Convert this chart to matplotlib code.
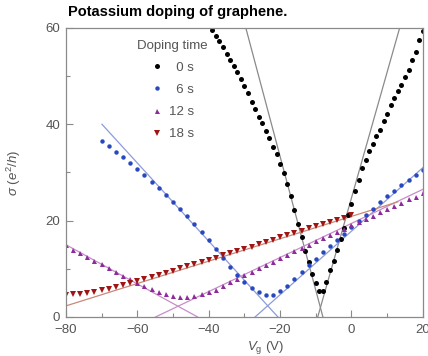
import numpy as np
import matplotlib
matplotlib.use("Agg")
import matplotlib.pyplot as plt

plt.rcParams["font.family"] = ["Liberation Sans", "DejaVu Sans"]
plt.rcParams["mathtext.fontset"] = "custom"
plt.rcParams["mathtext.it"] = "Liberation Sans:italic"
plt.rcParams["mathtext.rm"] = "Liberation Sans"

# --- data ---
v_0s = [-39, -38, -37, -36, -35, -34, -33, -32, -31, -30, -29, -28, -27, -26, -25,
        -24, -23, -22, -21, -20, -19, -18, -17, -16, -15, -14, -13, -12, -11, -10,
        -9, -8, -7, -6, -5, -4, -3, -2, -1, 0, 1, 2, 3, 4, 5, 6, 7, 8, 9, 10,
        11, 12, 13, 14, 15, 16, 17, 18, 19, 20]
s_0s = [59.6, 58.3, 57.2, 56.0, 54.6, 53.4, 52.0, 50.9, 49.3, 47.9, 46.4, 44.7, 43.2, 41.5, 40.2,
        38.5, 37.1, 35.3, 33.9, 31.7, 29.9, 27.6, 25.1, 22.3, 19.3, 16.6, 13.7, 11.4, 9.0, 7.1,
        5.4, 5.3, 7.3, 9.8, 11.7, 13.9, 16.2, 18.5, 21.1, 23.4, 26.1, 28.4, 30.9, 32.5, 34.5,
        35.9, 37.6, 38.9, 40.7, 42.2, 44.1, 45.4, 47.0, 48.2, 49.9, 51.3, 53.3, 55.1, 57.5, 59.3]

v_6s = list(range(-70, 21, 2))
s_6s = [36.6, 35.4, 34.3, 33.2, 32.0, 30.7, 29.4, 28.1, 26.8, 25.4, 23.9, 22.4, 20.9, 19.3,
        17.6, 15.9, 14.1, 12.3, 10.4, 8.7, 7.3, 6.0, 5.1, 4.6, 4.6, 5.3, 6.5, 7.9, 9.3, 10.7,
        12.1, 13.4, 14.8, 16.0, 17.3, 18.6, 19.9, 21.1, 22.5, 23.8, 25.1, 26.2, 27.3, 28.4,
        29.5, 30.6]

v_12s = list(range(-80, 21, 2))
s_12s = [14.9, 14.0, 13.2, 12.4, 11.6, 10.9, 10.1, 9.3, 8.5, 7.8, 7.0, 6.4, 5.8, 5.2, 4.8,
         4.4, 4.2, 4.2, 4.4, 4.7, 5.1, 5.7, 6.4, 7.2, 7.9, 8.7, 9.4, 10.1, 10.8, 11.5, 12.2,
         12.9, 13.6, 14.3, 15.0, 15.7, 16.4, 17.0, 17.6, 18.3, 19.0, 19.7, 20.3, 21.0, 21.7,
         22.4, 23.0, 23.7, 24.4, 25.0, 25.7]

v_18s = list(range(-80, 1, 2))
s_18s = [4.6, 4.7, 4.8, 5.0, 5.2, 5.5, 5.8, 6.2, 6.6, 7.0, 7.4, 7.8, 8.3, 8.7, 9.2, 9.6,
         10.1, 10.5, 11.0, 11.4, 11.9, 12.3, 12.8, 13.2, 13.7, 14.2, 14.6, 15.1, 15.6, 16.0,
         16.5, 17.0, 17.4, 17.9, 18.4, 18.8, 19.3, 19.7, 20.2, 20.6, 21.1]

# linear fits (end points)
fit_0s_left = ([-29.6, -8.0], [60, 0])
fit_0s_right = ([-9.45, 13.5], [0, 60])
fit_6s_left = ([-69.9, -20.6], [40, 0])
fit_6s_right = ([-27.0, 20.0], [0, 31])
fit_12s_left = ([-80.0, -43.1], [15, 0])
fit_12s_right = ([-54.9, 20.0], [0, 26.5])
fit_18s = ([-80.0, 13.0], [2.3, 23.9])

labels = ["  0 s", "  6 s", "12 s", "18 s"]

fig = plt.figure(figsize=(4.28, 3.56), dpi=100)
ax = fig.add_axes([0.154, 0.1096, 0.834, 0.812])

# fit lines
for fx, fy in (fit_0s_left, fit_0s_right):
    ax.plot(fx, fy, color="#8a8a8a", lw=0.9)
for fx, fy in (fit_6s_left, fit_6s_right):
    ax.plot(fx, fy, color="#8d9bdb", lw=0.9)
for fx, fy in (fit_12s_left, fit_12s_right):
    ax.plot(fx, fy, color="#c88ccb", lw=0.9)
ax.plot(*fit_18s, color="#c98878", lw=0.9)

# data
ax.plot(v_0s, s_0s, "o", color="black", ms=3.6, mew=0, label=labels[0])
ax.plot(v_6s, s_6s, "o", color="#2848c0", ms=3.2, mew=0, label=labels[1])
ax.plot(v_12s, s_12s, "^", color="#8e2a9c", ms=3.6, mew=0, label=labels[2])
ax.plot(v_18s, s_18s, "v", color="#a01414", ms=3.8, mew=0, label=labels[3])

ax.set_xlim(-80, 20)
ax.set_ylim(0, 60)
ax.set_xticks([-80, -60, -40, -20, 0, 20])
ax.set_xticklabels(["\u221280", "\u221260", "\u221240", "\u221220", "0", "20"])
ax.set_yticks([0, 20, 40, 60])
ax.set_xticks(np.arange(-70, 20, 20), minor=True)
ax.set_yticks([10, 30, 50], minor=True)
ax.tick_params(which="both", direction="in", colors="#8a8a8a", labelcolor="#555555",
               labelsize=9.5, width=0.8)
ax.tick_params(which="major", length=5)
ax.tick_params(axis="x", which="major", pad=5)
ax.tick_params(axis="y", which="major", pad=4)
ax.tick_params(which="minor", length=3)
for sp in ax.spines.values():
    sp.set_color("#8a8a8a")
    sp.set_linewidth(0.9)

ax.set_xlabel(r"$V_{\rm g}$ (V)", fontsize=9.5, color="#555555")
ax.xaxis.set_label_coords(0.56, -0.075)
ax.set_ylabel(r"$\sigma$ ($e^2/h$)", fontsize=9.5, color="#555555")
ax.yaxis.set_label_coords(-0.12, 0.5)

leg = ax.legend(loc="upper left", bbox_to_anchor=(0.165, 1.0), frameon=False,
                title="Doping time", fontsize=9.5, title_fontsize=9.5,
                handletextpad=0.4, labelspacing=0.75, handlelength=1.0,
                markerscale=1.0, labelcolor="#555555")
leg.get_title().set_color("#555555")

fig.text(0.158, 0.965, "Potassium doping of graphene.", fontsize=10.5,
         fontweight="bold", ha="left", va="center", color="black")

fig.savefig("out.png", dpi=100)
